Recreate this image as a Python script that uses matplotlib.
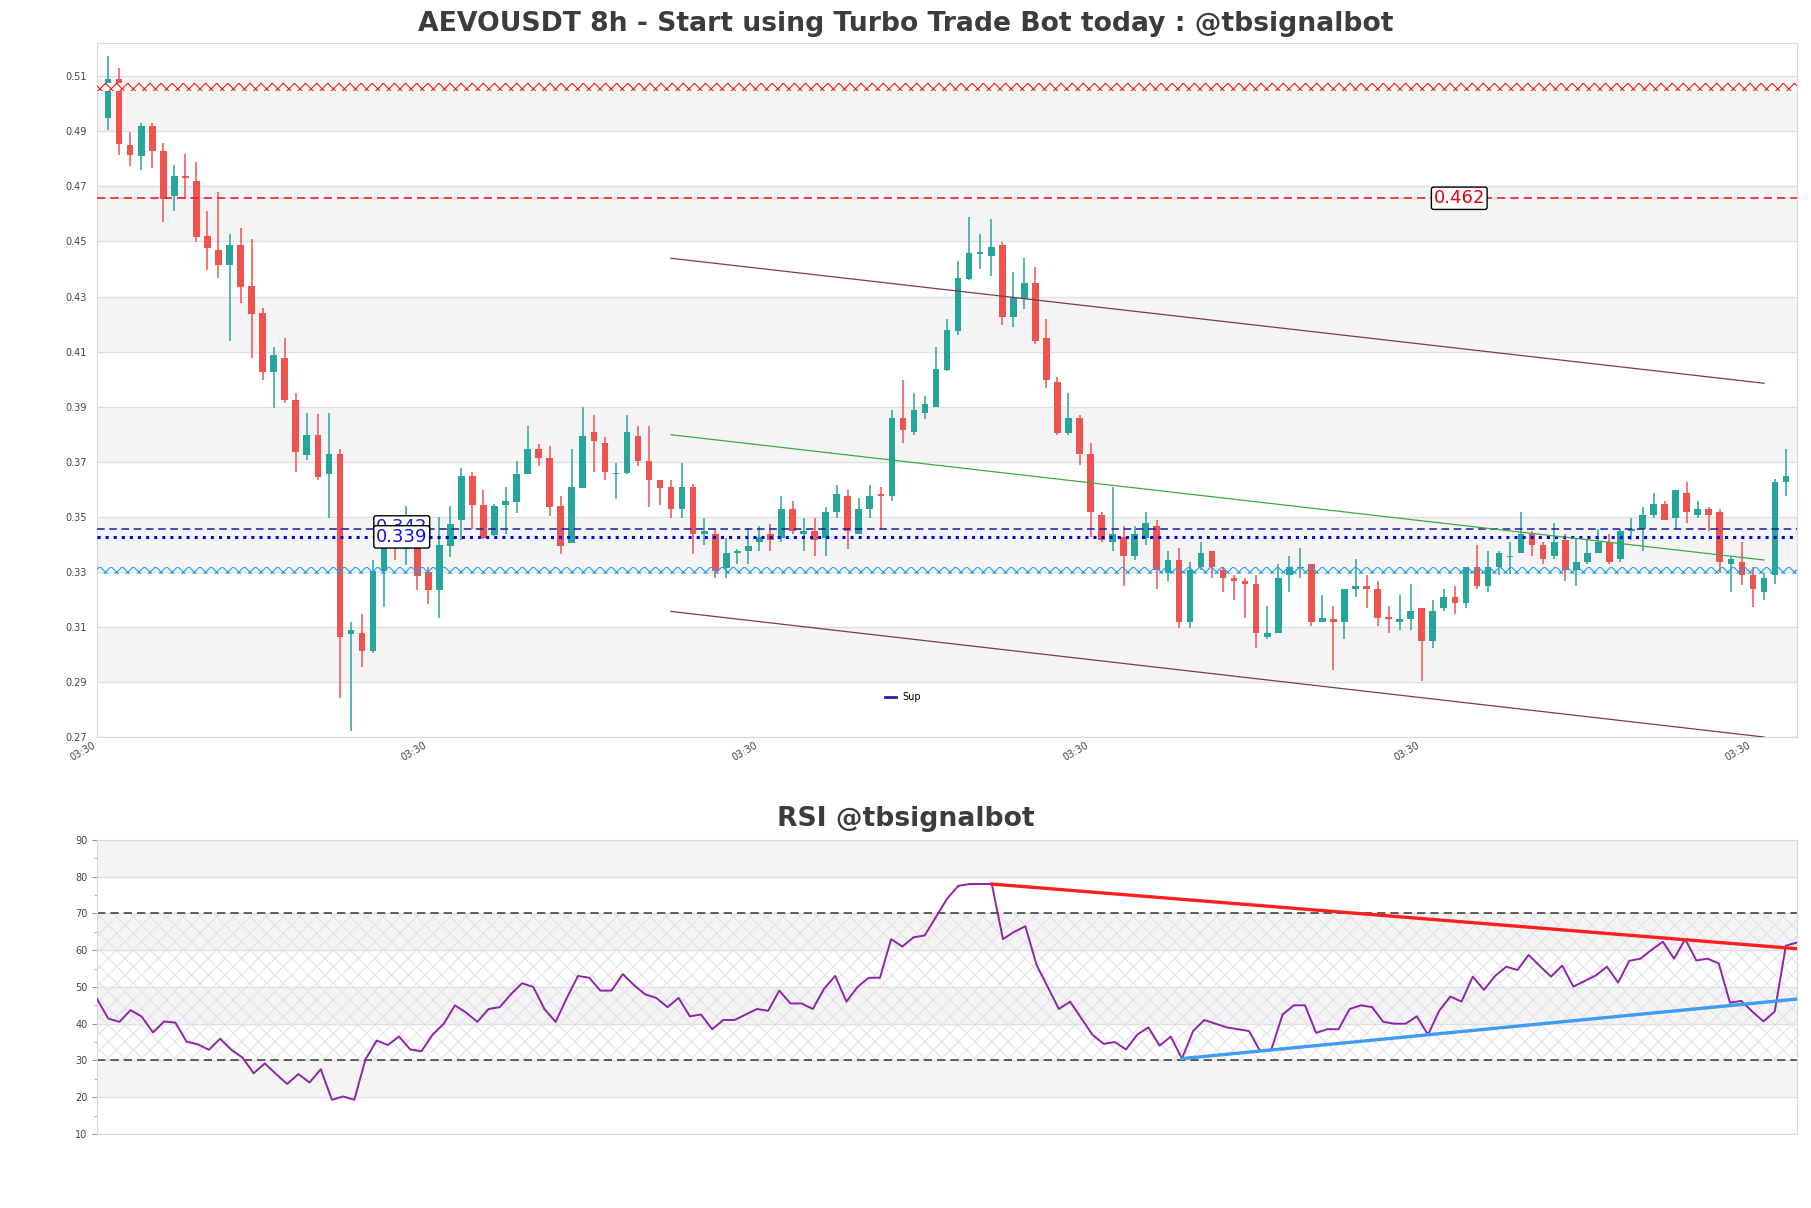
import numpy as np
import matplotlib
matplotlib.use('Agg')
import matplotlib.pyplot as plt
from matplotlib.lines import Line2D
from matplotlib.ticker import MultipleLocator

# 8h candles
opens = [0.4910, 0.5054, 0.4814, 0.4772, 0.4882, 0.4791, 0.4630, 0.4702, 0.4682, 0.4482,
         0.4433, 0.4378, 0.4450, 0.4302, 0.4202, 0.3990, 0.4039, 0.3889, 0.3687, 0.3759,
         0.3618, 0.3690, 0.3038, 0.3039, 0.2975, 0.3266, 0.3383, 0.3346, 0.3359, 0.3263,
         0.3198, 0.3358, 0.3450, 0.3610, 0.3506, 0.3396, 0.3506, 0.3518, 0.3618, 0.3711,
         0.3678, 0.3502, 0.3367, 0.3567, 0.3770, 0.3730, 0.3618, 0.3623, 0.3758, 0.3666,
         0.3598, 0.3570, 0.3490, 0.3570, 0.3399, 0.3399, 0.3278, 0.3332, 0.3338, 0.3370,
         0.3399, 0.3386, 0.3490, 0.3399, 0.3410, 0.3386, 0.3479, 0.3540, 0.3399, 0.3490,
         0.3546, 0.3540, 0.3822, 0.3770, 0.3839, 0.3860, 0.3996, 0.4138, 0.4327, 0.4418,
         0.4410, 0.4450, 0.4190, 0.4255, 0.4311, 0.4111, 0.3951, 0.3767, 0.3822, 0.3690,
         0.3470, 0.3370, 0.3390, 0.3319, 0.3386, 0.3428, 0.3258, 0.3306, 0.3079, 0.3279,
         0.3340, 0.3268, 0.3239, 0.3228, 0.3217, 0.3028, 0.3039, 0.3250, 0.3276, 0.3290,
         0.3079, 0.3090, 0.3079, 0.3199, 0.3210, 0.3199, 0.3098, 0.3079, 0.3090, 0.3130,
         0.3010, 0.3130, 0.3170, 0.3148, 0.3279, 0.3210, 0.3279, 0.3316, 0.3330, 0.3399,
         0.3359, 0.3319, 0.3380, 0.3268, 0.3300, 0.3330, 0.3370, 0.3308, 0.3410, 0.3420,
         0.3470, 0.3508, 0.3460, 0.3548, 0.3470, 0.3490, 0.3479, 0.3290, 0.3300, 0.3250,
         0.3188, 0.3250, 0.3588]
highs = [0.5135, 0.5095, 0.4862, 0.4895, 0.4895, 0.4822, 0.4742, 0.4780, 0.4751, 0.4574,
         0.4644, 0.4490, 0.4513, 0.4473, 0.4222, 0.4081, 0.4111, 0.3914, 0.3839, 0.3838,
         0.3839, 0.3711, 0.3079, 0.3110, 0.3306, 0.3415, 0.3431, 0.3502, 0.3407, 0.3279,
         0.3463, 0.3502, 0.3639, 0.3626, 0.3559, 0.3508, 0.3570, 0.3666, 0.3791, 0.3727,
         0.3719, 0.3540, 0.3711, 0.3860, 0.3831, 0.3751, 0.3660, 0.3831, 0.3791, 0.3791,
         0.3598, 0.3598, 0.3660, 0.3583, 0.3460, 0.3423, 0.3386, 0.3346, 0.3423, 0.3428,
         0.3436, 0.3540, 0.3519, 0.3460, 0.3460, 0.3500, 0.3580, 0.3559, 0.3530, 0.3580,
         0.3570, 0.3850, 0.3959, 0.3911, 0.3900, 0.4079, 0.4180, 0.4391, 0.4551, 0.4490,
         0.4543, 0.4460, 0.4351, 0.4402, 0.4370, 0.4180, 0.3970, 0.3911, 0.3831, 0.3730,
         0.3479, 0.3570, 0.3428, 0.3428, 0.3479, 0.3450, 0.3340, 0.3348, 0.3299, 0.3370,
         0.3340, 0.3279, 0.3250, 0.3239, 0.3250, 0.3138, 0.3290, 0.3319, 0.3348, 0.3290,
         0.3178, 0.3138, 0.3199, 0.3308, 0.3250, 0.3228, 0.3138, 0.3178, 0.3218, 0.3130,
         0.3159, 0.3199, 0.3210, 0.3279, 0.3359, 0.3340, 0.3340, 0.3370, 0.3479, 0.3410,
         0.3370, 0.3439, 0.3399, 0.3386, 0.3380, 0.3420, 0.3399, 0.3420, 0.3460, 0.3500,
         0.3548, 0.3519, 0.3559, 0.3588, 0.3519, 0.3500, 0.3490, 0.3319, 0.3370, 0.3279,
         0.3260, 0.3599, 0.3711]
lows = [0.4868, 0.4778, 0.4738, 0.4721, 0.4730, 0.4532, 0.4572, 0.4618, 0.4460, 0.4361,
        0.4329, 0.4100, 0.4241, 0.4038, 0.3959, 0.3858, 0.3876, 0.3626, 0.3668, 0.3596,
        0.3460, 0.2804, 0.2686, 0.2919, 0.2967, 0.3135, 0.3306, 0.3287, 0.3198, 0.3146,
        0.3095, 0.3316, 0.3380, 0.3420, 0.3383, 0.3393, 0.3399, 0.3476, 0.3618, 0.3649,
        0.3466, 0.3327, 0.3367, 0.3567, 0.3626, 0.3598, 0.3527, 0.3618, 0.3647, 0.3498,
        0.3506, 0.3458, 0.3458, 0.3327, 0.3359, 0.3239, 0.3239, 0.3290, 0.3290, 0.3338,
        0.3338, 0.3370, 0.3399, 0.3338, 0.3319, 0.3319, 0.3460, 0.3346, 0.3399, 0.3460,
        0.3419, 0.3519, 0.3730, 0.3759, 0.3818, 0.3860, 0.3991, 0.4122, 0.4322, 0.4362,
        0.4338, 0.4159, 0.4151, 0.4218, 0.4090, 0.3930, 0.3759, 0.3759, 0.3650, 0.3391,
        0.3370, 0.3338, 0.3210, 0.3306, 0.3359, 0.3199, 0.3228, 0.3058, 0.3058, 0.3268,
        0.3239, 0.3188, 0.3159, 0.3095, 0.2988, 0.3018, 0.3039, 0.3188, 0.3239, 0.3068,
        0.3079, 0.2908, 0.3018, 0.3170, 0.3130, 0.3068, 0.3039, 0.3050, 0.3050, 0.2868,
        0.2988, 0.3119, 0.3108, 0.3130, 0.3199, 0.3188, 0.3250, 0.3255, 0.3330, 0.3319,
        0.3290, 0.3308, 0.3228, 0.3210, 0.3290, 0.3330, 0.3290, 0.3300, 0.3380, 0.3340,
        0.3460, 0.3450, 0.3420, 0.3439, 0.3460, 0.3410, 0.3258, 0.3188, 0.3215, 0.3135,
        0.3159, 0.3218, 0.3539]
closes = [0.5054, 0.4818, 0.4778, 0.4882, 0.4790, 0.4618, 0.4702, 0.4692, 0.4479, 0.4439,
          0.4378, 0.4450, 0.4298, 0.4199, 0.3990, 0.4049, 0.3886, 0.3698, 0.3759, 0.3607,
          0.3690, 0.3026, 0.3050, 0.2975, 0.3266, 0.3367, 0.3359, 0.3367, 0.3247, 0.3198,
          0.3359, 0.3438, 0.3610, 0.3506, 0.3386, 0.3502, 0.3519, 0.3620, 0.3711, 0.3678,
          0.3498, 0.3358, 0.3570, 0.3758, 0.3738, 0.3626, 0.3623, 0.3770, 0.3666, 0.3598,
          0.3569, 0.3490, 0.3570, 0.3399, 0.3410, 0.3266, 0.3330, 0.3335, 0.3358, 0.3390,
          0.3380, 0.3490, 0.3410, 0.3410, 0.3380, 0.3479, 0.3546, 0.3410, 0.3490, 0.3540,
          0.3540, 0.3822, 0.3778, 0.3850, 0.3871, 0.3999, 0.4142, 0.4330, 0.4422, 0.4422,
          0.4442, 0.4190, 0.4260, 0.4311, 0.4100, 0.3959, 0.3767, 0.3822, 0.3690, 0.3479,
          0.3380, 0.3399, 0.3319, 0.3399, 0.3439, 0.3268, 0.3306, 0.3079, 0.3268, 0.3330,
          0.3279, 0.3239, 0.3228, 0.3217, 0.3039, 0.3039, 0.3239, 0.3279, 0.3279, 0.3079,
          0.3095, 0.3079, 0.3199, 0.3210, 0.3199, 0.3095, 0.3090, 0.3090, 0.3119, 0.3010,
          0.3119, 0.3170, 0.3148, 0.3279, 0.3210, 0.3279, 0.3330, 0.3319, 0.3399, 0.3359,
          0.3308, 0.3370, 0.3268, 0.3300, 0.3330, 0.3370, 0.3300, 0.3410, 0.3420, 0.3470,
          0.3508, 0.3450, 0.3559, 0.3479, 0.3490, 0.3470, 0.3300, 0.3308, 0.3250, 0.3199,
          0.3239, 0.3588, 0.3610]

# RSI(14)
rsi = [46.7, 41.4, 40.5, 43.7, 41.9, 37.6, 40.6, 40.3, 35.1, 34.4,
       32.9, 35.9, 32.9, 30.8, 26.5, 29.2, 26.3, 23.6, 26.3, 24.0,
       27.6, 19.3, 20.2, 19.3, 30.3, 35.4, 34.2, 36.5, 33.0, 32.5,
       37.0, 40.0, 45.0, 43.0, 40.5, 44.0, 44.5, 48.0, 51.0, 50.0,
       44.0, 40.5, 47.0, 53.0, 52.5, 49.0, 49.0, 53.5, 50.5, 48.0,
       47.0, 44.5, 47.0, 42.0, 42.5, 38.5, 41.0, 41.0, 42.5, 44.0,
       43.5, 49.0, 45.5, 45.5, 44.0, 49.5, 53.0, 46.0, 50.0, 52.5,
       52.5, 63.0, 61.0, 63.5, 64.0, 69.0, 74.0, 77.5, 78.0, 78.0,
       78.0, 63.0, 65.0, 66.5, 56.0, 50.0, 44.0, 46.0, 41.5, 37.0,
       34.5, 35.0, 33.0, 37.0, 39.0, 34.0, 36.5, 30.5, 38.0, 41.0,
       40.0, 39.0, 38.5, 38.0, 32.5, 33.0, 42.5, 45.0, 45.0, 37.5,
       38.5, 38.5, 44.0, 45.0, 44.5, 40.5, 40.0, 40.0, 42.0, 37.0,
       43.5, 47.4, 46.0, 52.8, 49.2, 53.0, 55.5, 54.6, 58.7, 55.7,
       52.8, 55.8, 50.1, 51.6, 53.1, 55.5, 51.2, 57.1, 57.7, 60.1,
       62.3, 57.7, 63.0, 57.2, 57.7, 56.4, 45.7, 46.2, 43.3, 40.6,
       43.3, 61.2, 62.1]

# levels
zone_top = 0.5023      # hatched resistance zone
zone_bottom = 0.3268   # hatched support zone
res_line = 0.462
sup_line = 0.342
sup_line2 = 0.339

# channel (start / end candle index)
chan_x = [51, 150]
chan_upper = [0.4402, 0.3948]
chan_mid = [0.3761, 0.3306]
chan_lower = [0.3119, 0.2663]

# rsi trend lines
rsi_res_x = [80, 152]
rsi_res_y = [78.0, 60.4]
rsi_sup_x = [97, 152]
rsi_sup_y = [30.5, 46.7]

xtick_pos = [-1, 29, 59, 89, 119, 149]
xtick_labels = ['03:30', '03:30', '03:30', '03:30', '03:30', '03:30']

green = '#26a69a'
red = '#ef5350'
band = '#f4f4f4'
spine_c = '#d9d9d9'

plt.rcParams['hatch.linewidth'] = 0.8

fig = plt.figure(figsize=(18.11, 12.08), dpi=100)
ax = fig.add_axes([0.0536, 0.3899, 0.9387, 0.5745])
ax2 = fig.add_axes([0.0536, 0.0613, 0.9387, 0.2434])

# ---- price chart ----
n = len(opens)
x = np.arange(n)
o = np.array(opens)
c = np.array(closes)
up = c >= o
cols = np.where(up, green, red)
body_lo = np.minimum(o, c)
body_h = np.maximum(np.abs(c - o), 0.0005)

ax.vlines(x, lows, highs, colors=cols, lw=1.1, zorder=2)
ax.bar(x, body_h, bottom=body_lo, width=0.6, color=cols, zorder=2)

ymin, ymax = 0.2663, 0.5184
yt = [0.2663 + 0.02 * k for k in range(13)]
for k in range(1, 12, 2):
    ax.axhspan(yt[k], yt[k + 1], color=band, zorder=0, lw=0)
ax.set_yticks(yt)
ax.set_yticklabels(['%.2f' % v for v in yt])
ax.grid(axis='y', color='#e0e0e0', lw=1, zorder=0)
ax.set_axisbelow(True)

# hatched zones
ax.axhspan(zone_top - 0.0014, zone_top + 0.0014, facecolor='#fff8ee', edgecolor='#e8202a',
           hatch='xxx', lw=0, zorder=3)
ax.axhspan(zone_bottom - 0.0013, zone_bottom + 0.0013, facecolor='none', edgecolor='#1e9fe6',
           hatch='xxx', lw=0, zorder=3)

ax.axhline(res_line, color='#e8202a', lw=1.2, ls=(0, (5, 3)), zorder=3)
ax.axhline(sup_line, color='#1a1aa8', lw=1.1, ls=(0, (5, 3)), zorder=3)
ax.axhline(sup_line2, color='#0000ee', lw=2.2, ls=':', zorder=3)

# channel
ax.plot(chan_x, chan_upper, color='#7d3b4f', lw=0.9, zorder=3)
ax.plot(chan_x, chan_lower, color='#7d3b4f', lw=0.9, zorder=3)
ax.plot(chan_x, chan_mid, color='#3cab4a', lw=0.9, zorder=3)

# level labels
box = dict(boxstyle='round,pad=0.12', fc='white', ec='black', lw=1)
ax.text(122.4, res_line, '%.3f' % res_line, color='#e8000b', fontsize=13,
        ha='center', va='center', bbox=box, zorder=5)
ax.text(26.6, sup_line + 0.0006, '%.3f' % sup_line, color='#1a1ad0', fontsize=13,
        ha='center', va='center', bbox=box, zorder=5)
ax.text(26.6, sup_line2, '%.3f' % sup_line2, color='#1010e0', fontsize=13,
        ha='center', va='center', bbox=box, zorder=6)

ax.set_xlim(-1, 153)
ax.set_ylim(ymin, ymax)
ax.set_xticks(xtick_pos)
ax.set_xticklabels(xtick_labels, rotation=30, ha='right')
ax.tick_params(axis='y', length=0, pad=7.5, labelsize=7, labelcolor='#444444')
ax.tick_params(axis='x', length=0, pad=2, labelsize=7, labelcolor='#444444')
for s in ax.spines.values():
    s.set_color(spine_c)

leg = ax.legend(handles=[Line2D([], [], color='#2020b0', lw=2)], labels=['Sup'],
                loc='center left', bbox_to_anchor=(0.4635, 0.0576), frameon=False,
                fontsize=7, handlelength=1.1, handletextpad=0.7, borderpad=0, borderaxespad=0)

fig.text(0.5, 0.980, 'AEVOUSDT 8h - Start using Turbo Trade Bot today : @tbsignalbot',
         ha='center', va='center', fontsize=19.2, fontweight='bold', color='#3c3c3c')

# ---- RSI ----
xr = np.arange(len(rsi))
for lo in [20, 40, 60, 80]:
    ax2.axhspan(lo, lo + 10, color=band, zorder=0, lw=0)
ax2.fill_between([0, len(rsi) - 1], 30, 70, facecolor='none', edgecolor='#e6e0ec',
                 hatch='xx', lw=0, zorder=1)
ax2.grid(axis='y', color='#e0e0e0', lw=1, zorder=0)
ax2.set_axisbelow(True)
ax2.axhline(70, color='#444444', lw=1.2, ls=(0, (5, 3)), zorder=2)
ax2.axhline(30, color='#444444', lw=1.2, ls=(0, (5, 3)), zorder=2)
ax2.plot(xr, rsi, color='#8e24aa', lw=1.4, zorder=3)
ax2.plot(rsi_res_x, rsi_res_y, color='#ff1f1f', lw=2.4, zorder=4)
ax2.plot(rsi_sup_x, rsi_sup_y, color='#3f9cf0', lw=2.4, zorder=4)

ax2.set_xlim(0, len(rsi) - 1)
ax2.set_ylim(10, 90)
ax2.set_yticks(range(10, 91, 10))
ax2.yaxis.set_minor_locator(MultipleLocator(5))
ax2.set_xticks([])
ax2.tick_params(axis='y', which='major', length=3.8, pad=3.2, labelsize=7,
                labelcolor='#444444', color='#999999')
ax2.tick_params(axis='y', which='minor', length=2, color='#999999')
for s in ax2.spines.values():
    s.set_color(spine_c)

fig.text(0.5, 0.322, 'RSI @tbsignalbot', ha='center', va='center', fontsize=19.2,
         fontweight='bold', color='#3c3c3c')

fig.savefig('out.png', dpi=100)
